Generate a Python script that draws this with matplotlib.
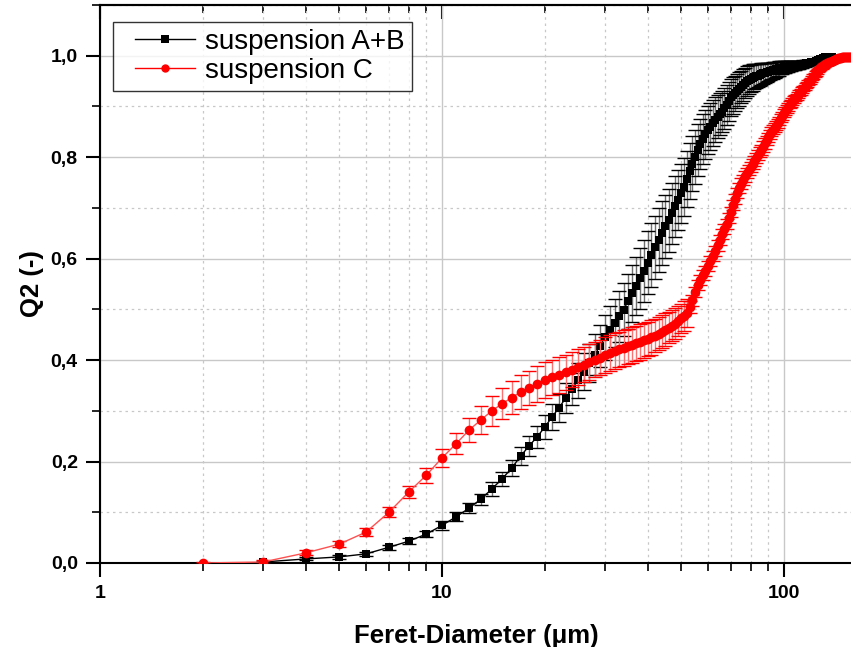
import matplotlib
matplotlib.use("Agg")
import matplotlib.pyplot as plt
from matplotlib.ticker import LogLocator, FuncFormatter, MultipleLocator, NullFormatter
from matplotlib.legend_handler import HandlerLine2D

# ---------------- data ----------------
x_ab = list(range(3, 139))
q2_ab = [0.002, 0.008, 0.012, 0.018, 0.031, 0.043, 0.057, 0.074, 0.091, 0.108,   # 3-12
         0.126, 0.146, 0.166, 0.187, 0.211, 0.231, 0.249, 0.268, 0.288, 0.306,   # 13-22
         0.325, 0.343, 0.360, 0.377, 0.394, 0.411, 0.428, 0.445, 0.460, 0.473,   # 23-32
         0.486, 0.499, 0.516, 0.532, 0.546, 0.561, 0.576, 0.592, 0.607, 0.622,   # 33-42
         0.637, 0.651, 0.664, 0.676, 0.689, 0.703, 0.716, 0.729, 0.742, 0.757,   # 43-52
         0.772, 0.787, 0.801, 0.814, 0.826, 0.836, 0.845, 0.853, 0.860, 0.867,   # 53-62
         0.874, 0.880, 0.885, 0.890, 0.896, 0.903, 0.910, 0.918, 0.922, 0.926,   # 63-72
         0.930, 0.934, 0.938, 0.942, 0.946, 0.950, 0.953, 0.955, 0.957, 0.959,   # 73-82
         0.960, 0.961, 0.962, 0.964, 0.965, 0.966, 0.967, 0.968, 0.969, 0.970,   # 83-92
         0.971, 0.972, 0.973, 0.974, 0.975, 0.976, 0.976, 0.977, 0.977, 0.978,   # 93-102
         0.978, 0.979, 0.979, 0.980, 0.980, 0.981, 0.981, 0.982, 0.982, 0.983,   # 103-112
         0.983, 0.984, 0.984, 0.985, 0.985, 0.986, 0.986, 0.987, 0.987, 0.988,   # 113-122
         0.988, 0.989, 0.990, 0.991, 0.992, 0.993, 0.994, 0.995, 0.996, 0.997,   # 123-132
         0.997, 0.998, 0.998, 0.998, 0.998, 0.998]                               # 133-138
err_ab = [0.002, 0.003, 0.004, 0.004, 0.005, 0.006, 0.006, 0.008, 0.009, 0.010,  # 3-12
          0.011, 0.013, 0.014, 0.016, 0.018, 0.020, 0.022, 0.024, 0.026, 0.028,  # 13-22
          0.030, 0.032, 0.034, 0.036, 0.038, 0.040, 0.042, 0.044, 0.046, 0.048,  # 23-32
          0.050, 0.052, 0.054, 0.056, 0.058, 0.060, 0.061, 0.062, 0.063, 0.063,  # 33-42
          0.063, 0.063, 0.062, 0.062, 0.061, 0.060, 0.059, 0.058, 0.057, 0.056,  # 43-52
          0.055, 0.054, 0.053, 0.052, 0.050, 0.049, 0.048, 0.047, 0.046, 0.045,  # 53-62
          0.044, 0.043, 0.042, 0.041, 0.040, 0.039, 0.038, 0.037, 0.036, 0.035,  # 63-72
          0.034, 0.033, 0.032, 0.031, 0.030, 0.029, 0.028, 0.027, 0.026, 0.025,  # 73-82
          0.024, 0.023, 0.022, 0.021, 0.020, 0.019, 0.018, 0.018, 0.017, 0.016,  # 83-92
          0.016, 0.015, 0.015, 0.014, 0.014, 0.013, 0.013, 0.012, 0.012, 0.011,  # 93-102
          0.011, 0.010, 0.010, 0.009, 0.009, 0.009, 0.008, 0.008, 0.008, 0.007,  # 103-112
          0.007, 0.007, 0.006, 0.006, 0.006, 0.005, 0.005, 0.005, 0.005, 0.004,  # 113-122
          0.004, 0.004, 0.004, 0.003, 0.003, 0.003, 0.003, 0.003, 0.002, 0.002,  # 123-132
          0.002, 0.002, 0.002, 0.002, 0.002, 0.002]                              # 133-138

x_c = list(range(2, 158))
q2_c = [0.000, 0.002, 0.020, 0.037, 0.061, 0.100, 0.140, 0.173, 0.207, 0.235,    # 2-11
        0.262, 0.282, 0.300, 0.314, 0.326, 0.337, 0.345, 0.353, 0.361, 0.366,    # 12-21
        0.371, 0.376, 0.381, 0.386, 0.391, 0.396, 0.401, 0.405, 0.410, 0.414,    # 22-31
        0.418, 0.421, 0.424, 0.427, 0.430, 0.433, 0.436, 0.439, 0.442, 0.445,    # 32-41
        0.448, 0.452, 0.456, 0.460, 0.464, 0.468, 0.472, 0.477, 0.482, 0.487,    # 42-51
        0.493, 0.505, 0.518, 0.535, 0.548, 0.558, 0.567, 0.576, 0.585, 0.595,    # 52-61
        0.605, 0.615, 0.626, 0.637, 0.648, 0.659, 0.669, 0.680, 0.692, 0.705,    # 62-71
        0.717, 0.729, 0.740, 0.748, 0.755, 0.762, 0.769, 0.775, 0.780, 0.786,    # 72-81
        0.792, 0.798, 0.804, 0.810, 0.815, 0.821, 0.827, 0.833, 0.839, 0.845,    # 82-91
        0.850, 0.854, 0.858, 0.862, 0.867, 0.872, 0.877, 0.882, 0.887, 0.891,    # 92-101
        0.895, 0.899, 0.903, 0.906, 0.910, 0.913, 0.916, 0.919, 0.922, 0.926,    # 102-111
        0.929, 0.932, 0.935, 0.938, 0.941, 0.944, 0.947, 0.950, 0.953, 0.956,    # 112-121
        0.959, 0.962, 0.965, 0.967, 0.970, 0.973, 0.975, 0.977, 0.979, 0.981,    # 122-131
        0.983, 0.984, 0.985, 0.986, 0.987, 0.988, 0.989, 0.990, 0.991, 0.992,    # 132-141
        0.993, 0.994, 0.995, 0.995, 0.996, 0.996, 0.997, 0.997, 0.997, 0.997,    # 142-151
        0.997, 0.997, 0.997, 0.997, 0.997, 0.997]                                # 152-157
err_c = [0.002, 0.003, 0.005, 0.006, 0.008, 0.010, 0.012, 0.015, 0.018, 0.021,   # 2-11
         0.024, 0.027, 0.030, 0.031, 0.032, 0.033, 0.034, 0.035, 0.035, 0.035,   # 12-21
         0.035, 0.035, 0.035, 0.035, 0.035, 0.035, 0.035, 0.035, 0.035, 0.035,   # 22-31
         0.035, 0.035, 0.035, 0.035, 0.035, 0.035, 0.035, 0.034, 0.034, 0.034,   # 32-41
         0.033, 0.033, 0.032, 0.032, 0.031, 0.031, 0.030, 0.030, 0.029, 0.029,   # 42-51
         0.028, 0.012, 0.011, 0.010, 0.010, 0.010, 0.010, 0.010, 0.010, 0.010,   # 52-61
         0.010, 0.010, 0.010, 0.010, 0.010, 0.010, 0.010, 0.010, 0.010, 0.010,   # 62-71
         0.010, 0.010, 0.010, 0.010, 0.010, 0.010, 0.010, 0.010, 0.010, 0.010,   # 72-81
         0.010, 0.010, 0.010, 0.010, 0.010, 0.010, 0.010, 0.009, 0.009, 0.009,   # 82-91
         0.009, 0.009, 0.009, 0.009, 0.009, 0.008, 0.008, 0.008, 0.008, 0.008,   # 92-101
         0.008, 0.007, 0.007, 0.007, 0.007, 0.007, 0.006, 0.006, 0.006, 0.006,   # 102-111
         0.006, 0.006, 0.005, 0.005, 0.005, 0.005, 0.005, 0.005, 0.004, 0.004,   # 112-121
         0.004, 0.004, 0.004, 0.004, 0.003, 0.003, 0.003, 0.003, 0.003, 0.003,   # 122-131
         0.002, 0.002, 0.002, 0.002, 0.002, 0.002, 0.002, 0.002, 0.002, 0.002,   # 132-141
         0.002, 0.002, 0.002, 0.002, 0.002, 0.002, 0.002, 0.002, 0.002, 0.002,   # 142-151
         0.002, 0.002, 0.002, 0.002, 0.002, 0.002]                               # 152-157

labels = ["suspension A+B", "suspension C"]
x_label = "Feret-Diameter (\u03bcm)"
y_label = "Q2 (-)"

# ---------------- figure ----------------
plt.rcParams['font.family'] = ['Liberation Sans', 'DejaVu Sans']
fig = plt.figure(figsize=(8.51, 6.47), dpi=100)
ax = fig.add_axes([100/851, 1 - 563/647, 1 - 100/851 + 0.002, 558/647])

# series A+B
eb1 = ax.errorbar(x_ab, q2_ab, yerr=err_ab, fmt='none', ecolor='black',
                  elinewidth=1.0, capsize=5, capthick=1.0, zorder=2)
eb1[2][0].set_color('#6e6e6e')
h1, = ax.plot(x_ab, q2_ab, color='black', lw=1.0, marker='s', markersize=6,
              markeredgewidth=0, zorder=3)

# series C
eb2 = ax.errorbar(x_c, q2_c, yerr=err_c, fmt='none', ecolor='red',
                  elinewidth=1.0, capsize=5, capthick=1.0, zorder=4)
eb2[2][0].set_color('#ff7070')
ax.plot(x_c, q2_c, color='#ff5050', lw=1.0, zorder=5)
ax.plot(x_c, q2_c, color='red', lw=0, marker='o', markersize=7,
        markeredgewidth=0, zorder=5)
h2, = ax.plot([], [], color='red', lw=1.0, marker='o', markersize=6,
              markeredgewidth=0)

ax.set_xscale('log')
ax.set_xlim(1, 159)
ax.set_ylim(0, 1.1)

# ticks
ax.xaxis.set_major_locator(LogLocator(base=10))
ax.xaxis.set_minor_locator(LogLocator(base=10, subs=range(2, 10)))
ax.xaxis.set_major_formatter(FuncFormatter(lambda v, p: f"{v:g}"))
ax.xaxis.set_minor_formatter(NullFormatter())
ax.yaxis.set_major_locator(MultipleLocator(0.2))
ax.yaxis.set_minor_locator(MultipleLocator(0.1))
ax.yaxis.set_major_formatter(FuncFormatter(lambda v, p: f"{v:.1f}".replace('.', ',')))

ax.tick_params(axis='both', which='major', direction='out', length=10, width=1.5,
               labelsize=14, pad=6)
ax.tick_params(axis='both', which='minor', direction='out', length=6, width=1.2)
for lab in ax.get_xticklabels() + ax.get_yticklabels():
    lab.set_fontweight('bold')

top = ax.secondary_xaxis('top')
top.tick_params(axis='x', which='major', direction='in', length=10, width=1.5, labeltop=False)
top.tick_params(axis='x', which='minor', direction='in', length=6, width=1.2)
top.xaxis.set_minor_locator(LogLocator(base=10, subs=range(2, 10)))
top.xaxis.set_minor_formatter(NullFormatter())
top.spines['top'].set_linewidth(1.5)

# grid
ax.grid(True, which='major', color='#c8c8c8', lw=1.0, ls='-', zorder=0)
ax.grid(True, which='minor', color='#c8c8c8', lw=0.9, ls=(0, (2, 3)), zorder=0)
ax.set_axisbelow(True)

for s in ['left', 'bottom', 'top']:
    ax.spines[s].set_linewidth(1.5)
ax.spines['right'].set_visible(False)

ax.set_xlabel(x_label, fontsize=18.5, fontweight='bold', labelpad=16)
ax.set_ylabel(y_label, fontsize=18.5, fontweight='bold', labelpad=5)

hmap = {h1: HandlerLine2D(xpad=0.54), h2: HandlerLine2D(xpad=0.54)}
leg = ax.legend(handles=[h1, h2], labels=labels, loc='upper left',
                bbox_to_anchor=(13/751, 1 - 17/558), fontsize=20, frameon=True,
                fancybox=False, edgecolor='black', handlelength=2.7,
                borderpad=0.25, labelspacing=0.1, handletextpad=0.36,
                borderaxespad=0, handler_map=hmap)
leg.get_frame().set_linewidth(1.0)

fig.savefig('out.png', dpi=100)
